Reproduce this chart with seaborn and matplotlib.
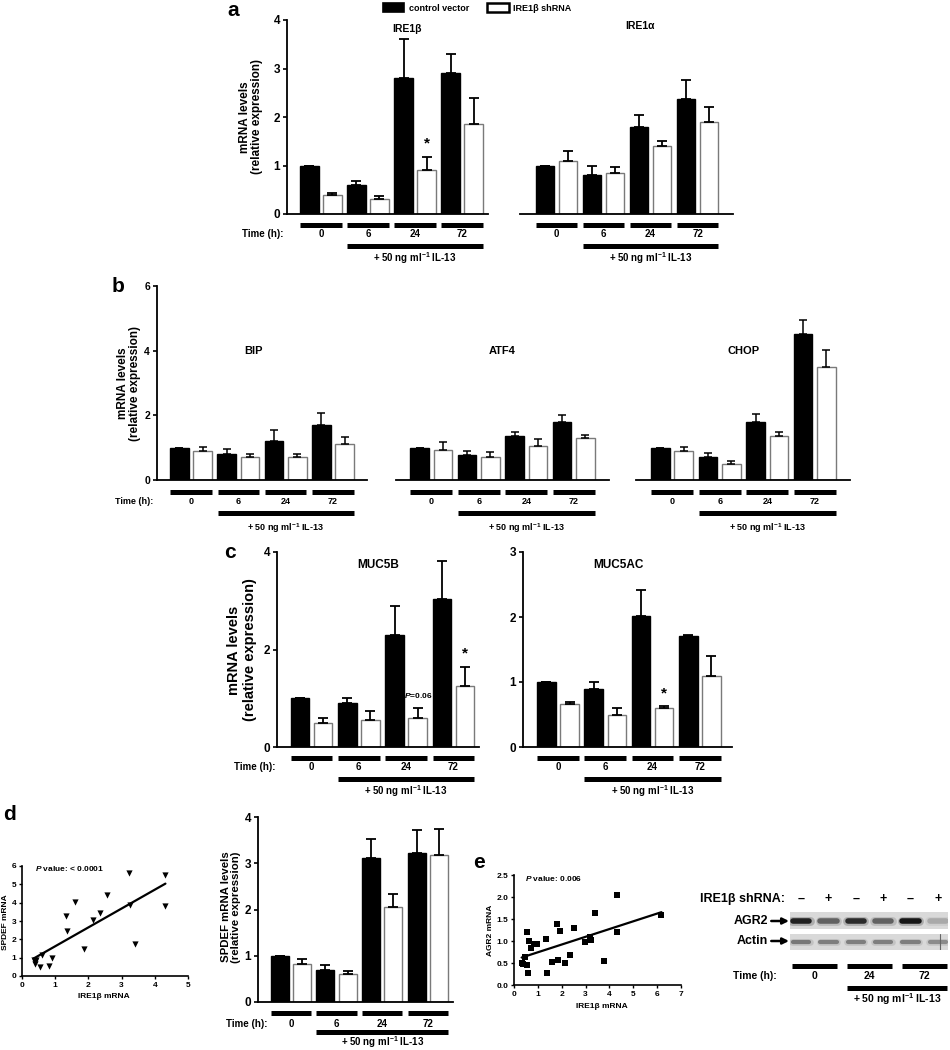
import numpy as np
import pandas as pd
import matplotlib
matplotlib.use("Agg")
import matplotlib.pyplot as plt
import seaborn as sns
from matplotlib.lines import Line2D
from matplotlib.patches import Patch
import matplotlib.transforms as mtransforms

# ---------------- data ----------------
times = ["0", "6", "24", "72"]
groups = ["control vector", "IRE1β shRNA"]
il_text = r"+ 50 ng ml$^{-1}$ IL-13"

ire1b_ctrl = [1.0, 0.6, 2.8, 2.9]
ire1b_ctrl_err = [0.0, 0.08, 0.8, 0.4]
ire1b_sh = [0.4, 0.3, 0.9, 1.85]
ire1b_sh_err = [0.03, 0.08, 0.28, 0.55]

ire1a_ctrl = [1.0, 0.8, 1.8, 2.38]
ire1a_ctrl_err = [0.0, 0.2, 0.25, 0.38]
ire1a_sh = [1.1, 0.85, 1.4, 1.9]
ire1a_sh_err = [0.2, 0.12, 0.1, 0.3]

bip_ctrl = [1.0, 0.8, 1.2, 1.7]
bip_ctrl_err = [0.0, 0.15, 0.35, 0.38]
bip_sh = [0.9, 0.7, 0.7, 1.12]
bip_sh_err = [0.12, 0.1, 0.1, 0.22]

atf4_ctrl = [1.0, 0.78, 1.35, 1.8]
atf4_ctrl_err = [0.0, 0.12, 0.13, 0.2]
atf4_sh = [0.93, 0.72, 1.05, 1.3]
atf4_sh_err = [0.23, 0.15, 0.22, 0.1]

chop_ctrl = [1.0, 0.7, 1.78, 4.5]
chop_ctrl_err = [0.0, 0.12, 0.27, 0.45]
chop_sh = [0.9, 0.5, 1.35, 3.5]
chop_sh_err = [0.12, 0.1, 0.13, 0.52]

muc5b_ctrl = [1.0, 0.9, 2.3, 3.03]
muc5b_ctrl_err = [0.0, 0.1, 0.6, 0.78]
muc5b_sh = [0.5, 0.55, 0.6, 1.25]
muc5b_sh_err = [0.1, 0.18, 0.2, 0.4]

muc5ac_ctrl = [1.0, 0.9, 2.02, 1.71]
muc5ac_ctrl_err = [0.0, 0.1, 0.4, 0.02]
muc5ac_sh = [0.66, 0.5, 0.6, 1.1]
muc5ac_sh_err = [0.03, 0.1, 0.03, 0.3]

spdef_ctrl = [1.0, 0.7, 3.12, 3.22]
spdef_ctrl_err = [0.0, 0.1, 0.4, 0.5]
spdef_sh = [0.83, 0.6, 2.05, 3.18]
spdef_sh_err = [0.1, 0.06, 0.28, 0.55]

d_ire1b = [0.35, 0.38, 0.40, 0.42, 0.55, 0.60, 0.82, 0.90, 1.33, 1.35,
           1.60, 1.87, 2.15, 2.35, 2.55, 3.22, 3.25, 3.40, 4.32, 4.32]
d_spdef = [0.90, 0.75, 0.65, 0.85, 0.50, 1.15, 0.55, 1.00, 3.25, 2.45,
           4.05, 1.50, 3.05, 3.45, 4.40, 5.60, 3.90, 1.75, 5.50, 3.80]

e_ire1b = [0.32, 0.39, 0.46, 0.54, 0.56, 0.59, 0.63, 0.71, 0.84, 0.95,
           1.33, 1.38, 1.59, 1.80, 1.86, 1.91, 2.14, 2.34, 2.53, 2.99,
           3.20, 3.24, 3.41, 3.76, 4.31, 4.31, 6.18]
e_agr2 = [0.50, 0.48, 0.63, 1.21, 0.45, 0.28, 1.00, 0.83, 0.93, 0.93,
          1.05, 0.27, 0.52, 1.38, 0.57, 1.23, 0.51, 0.69, 1.30, 0.97,
          1.10, 1.02, 1.63, 0.54, 2.05, 1.21, 1.60]

blot_shrna = ["–", "+", "–", "+", "–", "+"]
blot_times = ["0", "24", "72"]
agr2_band = [0.85, 0.55, 0.80, 0.55, 0.90, 0.22]
actin_band = [0.45, 0.42, 0.42, 0.42, 0.42, 0.36]

# ---------------- style ----------------
sns.set_style("ticks")
plt.rcParams["font.family"] = ["Liberation Sans", "DejaVu Sans"]
plt.rcParams["font.weight"] = "bold"
plt.rcParams["axes.labelweight"] = "bold"
plt.rcParams["mathtext.fontset"] = "custom"
plt.rcParams["mathtext.rm"] = "Liberation Sans:bold"
plt.rcParams["mathtext.bf"] = "Liberation Sans:bold"
plt.rcParams["mathtext.it"] = "Liberation Sans:italic:bold"
plt.rcParams["axes.edgecolor"] = "black"
plt.rcParams["xtick.color"] = "black"
plt.rcParams["ytick.color"] = "black"
plt.rcParams["text.color"] = "black"

W, H = 950, 1050
fig = plt.figure(figsize=(9.5, 10.5), dpi=100)
fig.patch.set_facecolor("white")


def fy(p):
    return 1 - p / H


def fx(p):
    return p / W


def add_ax(x0, y0, x1, y1):
    ax = fig.add_axes([x0 / W, 1 - y1 / H, (x1 - x0) / W, (y1 - y0) / H])
    ax.patch.set_alpha(0)
    return ax


def bar_panel(ax, ctrl, ctrl_err, sh, sh_err, ylim, yticks, xlim, show_y=True,
              tick_fs=8.5, err_lw=1.3, cap=3.5):
    df = pd.DataFrame({"time": times * 2, "value": ctrl + sh,
                       "group": [groups[0]] * 4 + [groups[1]] * 4})
    sns.barplot(data=df, x="time", y="value", hue="group", order=times,
                hue_order=groups, palette={groups[0]: "black", groups[1]: "white"},
                errorbar=None, width=0.98, gap=0.2, saturation=1, ax=ax, legend=False)
    for cont, errs, ec in zip(ax.containers, [ctrl_err, sh_err], ["black", "#7a7a7a"]):
        xs, ys = [], []
        for p in cont:
            p.set_edgecolor(ec)
            p.set_linewidth(1.0)
            xs.append(p.get_x() + p.get_width() / 2)
            ys.append(p.get_height())
        ax.errorbar(xs, ys, yerr=[np.zeros(len(errs)), errs], fmt="none",
                    ecolor="black", elinewidth=err_lw, capsize=cap,
                    capthick=err_lw, zorder=3)
    ax.set_xlim(*xlim)
    ax.set_ylim(*ylim)
    ax.set_xlabel("")
    ax.set_ylabel("")
    ax.set_xticks([])
    sns.despine(ax=ax, left=not show_y)
    ax.spines["bottom"].set_linewidth(1.3)
    if show_y:
        ax.set_yticks(yticks)
        ax.tick_params(axis="y", length=3, width=1.2, labelsize=tick_fs, pad=2)
        ax.spines["left"].set_linewidth(1.3)
    else:
        ax.set_yticks([])
    return ax


def bar_centers(ax, hue_idx):
    return [p.get_x() + p.get_width() / 2 for p in ax.containers[hue_idx]]


def time_rows(ax, ybar, ytext, yil, yiltext, centers=(0, 1, 2, 3), labels=times,
              half=0.44, label_dx=0.36, show_label=True, il_from=1, fs=7,
              il_fs=7, bar_lw=3.6):
    tr = mtransforms.blended_transform_factory(ax.transData, fig.transFigure)
    for c, lab in zip(centers, labels):
        ax.add_artist(Line2D([c - half, c + half], [fy(ybar)] * 2, transform=tr,
                             color="black", lw=bar_lw, solid_capstyle="butt",
                             clip_on=False))
        ax.text(c, fy(ytext), lab, transform=tr, ha="center", va="center",
                fontsize=fs, fontweight="bold")
    if show_label:
        ax.text(centers[0] - half - label_dx, fy(ytext), "Time (h):", transform=tr,
                ha="right", va="center", fontsize=fs, fontweight="bold")
    x0 = centers[il_from] - half
    x1 = centers[-1] + half
    ax.add_artist(Line2D([x0, x1], [fy(yil)] * 2, transform=tr, color="black",
                         lw=bar_lw, solid_capstyle="butt", clip_on=False))
    ax.text((x0 + x1) / 2, fy(yiltext), il_text, transform=tr, ha="center",
            va="center", fontsize=il_fs, fontweight="bold")


def ylab(x, y, s, fs):
    fig.text(fx(x), fy(y), s, rotation=90, ha="center", va="center",
             fontsize=fs, fontweight="bold", linespacing=1.1,
             multialignment="center")


# ---------------- legend & panel labels ----------------
handles = [Patch(facecolor="black", edgecolor="black", lw=1.2),
           Patch(facecolor="white", edgecolor="black", lw=1.8)]
fig.legend(handles, groups, loc="center", bbox_to_anchor=(fx(477), fy(8)),
           ncol=2, frameon=False, prop={"weight": "bold", "size": 6.5},
           handlelength=2.4, handleheight=1.1, handletextpad=0.5,
           columnspacing=2.0, borderpad=0.1)

for lab, (x, y) in {"a": (233, 10), "b": (118, 287), "c": (230, 553),
                    "d": (10, 815), "e": (479, 863)}.items():
    fig.text(fx(x), fy(y), lab, fontsize=15, fontweight="bold",
             ha="center", va="center")

# ---------------- panel a ----------------
ax = add_ax(287, 20, 488, 214)
bar_panel(ax, ire1b_ctrl, ire1b_ctrl_err, ire1b_sh, ire1b_sh_err, (0, 4),
          [0, 1, 2, 3, 4], (-0.72, 3.55))
ax.text(1.83, 3.81, "IRE1β", ha="center", va="center", fontsize=7.5, fontweight="bold")
sx = bar_centers(ax, 1)
ax.text(sx[2], ire1b_sh[2] + ire1b_sh_err[2] + 0.12, "*", ha="center",
        va="bottom", fontsize=11, fontweight="bold")
time_rows(ax, 225, 234, 246, 258)
ylab(251, 117, "mRNA levels\n(relative expression)", 8.5)

ax = add_ax(520, 20, 733, 214)
bar_panel(ax, ire1a_ctrl, ire1a_ctrl_err, ire1a_sh, ire1a_sh_err, (0, 4),
          [], (-0.77, 3.75), show_y=False)
ax.text(1.77, 3.88, "IRE1α", ha="center", va="center", fontsize=7.5, fontweight="bold")
time_rows(ax, 225, 234, 246, 258, show_label=False)

# ---------------- panel b ----------------
b_specs = [
    ("BIP", bip_ctrl, bip_ctrl_err, bip_sh, bip_sh_err, (157, 367), (-0.72, 3.72), 1.31, True),
    ("ATF4", atf4_ctrl, atf4_ctrl_err, atf4_sh, atf4_sh_err, (396, 609), (-0.74, 3.74), 1.49, False),
    ("CHOP", chop_ctrl, chop_ctrl_err, chop_sh, chop_sh_err, (636, 850), (-0.76, 3.74), 1.50, False),
]
for name, c, ce, s, se, (x0, x1), xl, tx, showy in b_specs:
    ax = add_ax(x0, 286, x1, 480)
    bar_panel(ax, c, ce, s, se, (0, 6), [0, 2, 4, 6], xl, show_y=showy,
              tick_fs=7.5, err_lw=1.1, cap=3)
    ax.text(tx, 4.0, name, ha="center", va="center", fontsize=8, fontweight="bold")
    time_rows(ax, 492, 501, 513, 528, show_label=showy, fs=6.5, il_fs=6.5)
ylab(129, 383, "mRNA levels\n(relative expression)", 8.5)

# ---------------- panel c ----------------
ax = add_ax(277, 552, 479, 747)
bar_panel(ax, muc5b_ctrl, muc5b_ctrl_err, muc5b_sh, muc5b_sh_err, (0, 4),
          [0, 2, 4], (-0.73, 3.54))
ax.text(1.41, 3.73, "MUC5B", ha="center", va="center", fontsize=8.5, fontweight="bold")
sx = bar_centers(ax, 1)
ax.text(sx[2], 1.05, r"$\it{P}$=0.06", ha="center", va="center", fontsize=6)
ax.text(sx[3], muc5b_sh[3] + muc5b_sh_err[3] + 0.12, "*", ha="center",
        va="bottom", fontsize=11, fontweight="bold")
time_rows(ax, 758, 767, 779, 791, label_dx=0.32)
ylab(242, 650, "mRNA levels\n(relative expression)", 10.5)

ax = add_ax(523, 552, 732, 747)
bar_panel(ax, muc5ac_ctrl, muc5ac_ctrl_err, muc5ac_sh, muc5ac_sh_err, (0, 3),
          [0, 1, 2, 3], (-0.74, 3.68))
ax.text(1.27, 2.8, "MUC5AC", ha="center", va="center", fontsize=8.5, fontweight="bold")
sx = bar_centers(ax, 1)
ax.text(sx[2], muc5ac_sh[2] + muc5ac_sh_err[2] + 0.09, "*", ha="center",
        va="bottom", fontsize=11, fontweight="bold")
time_rows(ax, 758, 767, 779, 791, show_label=False)

# ---------------- panel d ----------------
ax = add_ax(22, 866, 188, 976)
dfd = pd.DataFrame({"ire1b": d_ire1b, "spdef": d_spdef})
sns.regplot(data=dfd, x="ire1b", y="spdef", ax=ax, ci=None, marker="v",
            color="black", scatter_kws={"s": 20, "linewidths": 0, "alpha": 1},
            line_kws={"lw": 1.6})
ax.set_xlim(0, 5)
ax.set_ylim(0, 6)
ax.set_xticks(range(0, 6))
ax.set_yticks(range(0, 7))
ax.set_xlabel("")
ax.set_ylabel("")
sns.despine(ax=ax)
for s_ in ("left", "bottom"):
    ax.spines[s_].set_linewidth(1.2)
ax.tick_params(labelsize=6, length=2.5, width=1, pad=1.5)
ax.text(0.08, 0.98, r"$\it{P}$ value: < 0.0001", transform=ax.transAxes,
        ha="left", va="center", fontsize=6)
fig.text(fx(104), fy(997), "IRE1β mRNA", ha="center", va="center", fontsize=6)
fig.text(fx(6), fy(922), "SPDEF mRNA", rotation=90, ha="center", va="center", fontsize=6)

ax = add_ax(258, 817, 453, 1002)
bar_panel(ax, spdef_ctrl, spdef_ctrl_err, spdef_sh, spdef_sh_err, (0, 4),
          [0, 1, 2, 3, 4], (-0.72, 3.55))
time_rows(ax, 1013, 1024, 1032, 1042, label_dx=0.08)
ylab(231, 907, "SPDEF mRNA levels\n(relative expression)", 8.2)

# ---------------- panel e ----------------
ax = add_ax(514, 875, 681, 985)
dfe = pd.DataFrame({"ire1b": e_ire1b, "agr2": e_agr2})
sns.regplot(data=dfe, x="ire1b", y="agr2", ax=ax, ci=None, marker="s",
            color="black", scatter_kws={"s": 15, "linewidths": 0, "alpha": 1},
            line_kws={"lw": 1.6})
ax.set_xlim(0, 7)
ax.set_ylim(0, 2.5)
ax.set_xticks(range(0, 8))
ax.set_yticks([0, 0.5, 1.0, 1.5, 2.0, 2.5])
ax.set_yticklabels(["0.0", "0.5", "1.0", "1.5", "2.0", "2.5"])
ax.set_xlabel("")
ax.set_ylabel("")
sns.despine(ax=ax)
for s_ in ("left", "bottom"):
    ax.spines[s_].set_linewidth(1.2)
ax.tick_params(labelsize=6, length=2.5, width=1, pad=1.5)
ax.text(0.066, 0.97, r"$\it{P}$ value: 0.006", transform=ax.transAxes,
        ha="left", va="center", fontsize=6)
fig.text(fx(602), fy(1007), "IRE1β mRNA", ha="center", va="center", fontsize=6)
fig.text(fx(491), fy(930), "AGR2 mRNA", rotation=90, ha="center", va="center", fontsize=6)

# ---------------- western blot ----------------
ax_ag = add_ax(790, 912, 948, 929)
ax_ac = add_ax(790, 934, 948, 950)
for a_, vals, lw in [(ax_ag, agr2_band, 4.0), (ax_ac, actin_band, 3.0)]:
    a_.patch.set_alpha(1)
    a_.set_facecolor("#d9d9d9")
    a_.set_xlim(-0.4, 5.37)
    a_.set_ylim(-1, 1)
    for i, v in enumerate(vals):
        g = 0.85 - 0.85 * v
        a_.plot([i - 0.32, i + 0.32], [0, 0], color=str(round(0.85 - 0.4 * v, 3)),
                lw=lw * 1.6, solid_capstyle="round", alpha=0.5)
        a_.plot([i - 0.3, i + 0.3], [0, 0], color=str(round(g, 3)), lw=lw,
                solid_capstyle="round")
    a_.set_xticks([])
    a_.set_yticks([])
    for s_ in a_.spines.values():
        s_.set_visible(False)
ax_ac.axvline(5.07, color="#666666", lw=0.8)

trb = mtransforms.blended_transform_factory(ax_ag.transData, fig.transFigure)
fig.text(fx(785), fy(899), "IRE1β shRNA:", ha="right", va="center", fontsize=9,
         fontweight="bold")
for i, s_ in enumerate(blot_shrna):
    ax_ag.text(i, fy(899), s_, transform=trb, ha="center", va="center",
               fontsize=9, fontweight="bold")
for lab, yy in [("AGR2", 921), ("Actin", 941)]:
    ax_ag.annotate(lab, xy=(fx(789), fy(yy)), xycoords="figure fraction",
                   xytext=(fx(768), fy(yy)), textcoords="figure fraction",
                   ha="right", va="center", fontsize=9, fontweight="bold",
                   arrowprops=dict(arrowstyle="-|>", color="black", lw=1.8,
                                   mutation_scale=9, shrinkA=0, shrinkB=0),
                   annotation_clip=False)
time_rows(ax_ag, 966, 976, 988, 999, centers=(0.5, 2.5, 4.5), labels=blot_times,
          half=0.82, label_dx=0.58, fs=7.5, il_fs=7.5)

fig.savefig("out.png", dpi=100, facecolor="white")
